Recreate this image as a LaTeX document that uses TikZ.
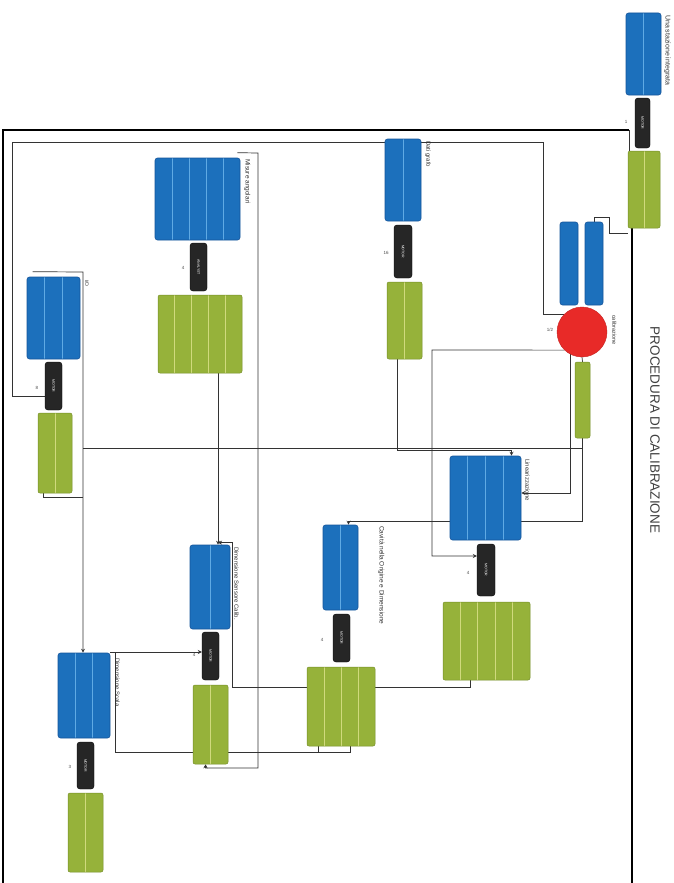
\documentclass[tikz,border=0pt]{standalone}
\usepackage{fontspec}
\setmainfont{Liberation Sans}
\usetikzlibrary{calc,arrows.meta}
\definecolor{bfill}{RGB}{28,112,188}
\definecolor{bdark}{RGB}{22,85,155}
\definecolor{bline}{RGB}{95,170,228}
\definecolor{gfill}{RGB}{150,178,58}
\definecolor{gdark}{RGB}{118,142,40}
\definecolor{gline}{RGB}{208,218,125}
\definecolor{kfill}{RGB}{38,38,38}
\definecolor{rfill}{RGB}{232,42,40}
\pgfdeclarelayer{bg}
\pgfsetlayers{bg,main}
\begin{document}
\begin{tikzpicture}[x=1pt,y=-1pt,
  conn/.style={draw=black!80, line width=0.7pt},
  arr/.style={conn,-{Stealth[length=4pt,width=4pt]}},
  framel/.style={draw=black, line width=2pt},
  dcols/.style 2 args={path picture={\pgfmathtruncatemacro\nm{#1-1}\foreach \k in {1,...,\nm}{\draw[#2,line width=0.9pt] ($(path picture bounding box.north west)!{\k/#1}!(path picture bounding box.north east)$) -- ($(path picture bounding box.south west)!{\k/#1}!(path picture bounding box.south east)$);}}},
  bb/.style={fill=bfill, draw=bdark, line width=0.6pt, rounded corners=2.5pt, inner sep=0pt},
  gb/.style={fill=gfill, draw=gdark, line width=0.5pt, rounded corners=2pt, inner sep=0pt},
  kb/.style={fill=kfill, draw=black, rounded corners=3pt, inner sep=0pt, text=white, font=\fontsize{3.5}{4}\selectfont},
  lbl/.style={rotate=-90, anchor=south west, inner sep=1pt, font=\fontsize{7}{8}\selectfont, text=black!80},
  mk/.style={font=\fontsize{4.5}{5}\selectfont, text=black!70, inner sep=0.5pt},
]
\useasboundingbox (0,0) rectangle (673,883);

% ---------- component A (outside frame)
\node[bb, dcols={2}{bline}, minimum width=35pt, minimum height=82pt] (Ablue) at (643.5,54) {};
\node[kb, minimum width=15pt, minimum height=50pt] (Ablack) at (642.5,123) {\rotatebox{-90}{MOTOR}};
\node[gb, dcols={2}{gline}, minimum width=32pt, minimum height=77pt] (Agreen) at (644,189.5) {};
\node[lbl] (Alab) at (663,14) {Una stazione integrata};
\node[mk] (Amk) at (626,122) {1};

% ---------- component B (calibrazione)
\node[bb, minimum width=18pt, minimum height=83pt] (Bblue1) at (569,263.5) {};
\node[bb, minimum width=18pt, minimum height=83pt] (Bblue2) at (594,263.5) {};
\node[circle, fill=rfill, draw=rfill!85!black, minimum size=50pt, inner sep=0pt] (Bcirc) at (582,332) {};
\node[gb, minimum width=15pt, minimum height=76pt] (Bgreen) at (582.5,400) {};
\node[lbl, font=\fontsize{5.5}{6}\selectfont] (Blab) at (611,314) {calibrazione};
\node[mk] (Bmk) at (550,330) {1/2};

% ---------- component C
\node[bb, dcols={2}{bline}, minimum width=36pt, minimum height=82pt] (Cblue) at (403,180) {};
\node[kb, minimum width=18pt, minimum height=53pt] (Cblack) at (403,251.5) {\rotatebox{-90}{MOTOR}};
\node[gb, dcols={2}{gline}, minimum width=35pt, minimum height=77pt] (Cgreen) at (404.5,320.5) {};
\node[lbl, font=\fontsize{6}{7}\selectfont] (Clab) at (424,140) {Dati grafo};
\node[mk] (Cmk) at (386,253) {16};

% ---------- component D (Linearizzazione)
\node[bb, dcols={4}{bline}, minimum width=71pt, minimum height=84pt] (Dblue) at (485.5,498) {};
\node[kb, minimum width=18pt, minimum height=52pt] (Dblack) at (486,570) {\rotatebox{-90}{MOTOR}};
\node[gb, dcols={5}{gline}, minimum width=87pt, minimum height=78pt] (Dgreen) at (486.5,641) {};
\node[lbl, font=\fontsize{6}{7}\selectfont] (Dlab) at (524,458) {Linearizzazione};
\node[mk] (Dmk) at (468,573) {4};

% ---------- component E
\node[bb, dcols={3}{bline}, minimum width=53pt, minimum height=82pt] (Eblue) at (53.5,318) {};
\node[kb, minimum width=17pt, minimum height=48pt] (Eblack) at (53.5,386) {\rotatebox{-90}{MOTOR}};
\node[gb, dcols={2}{gline}, minimum width=34pt, minimum height=80pt] (Egreen) at (55,453) {};
\node[lbl, font=\fontsize{5}{6}\selectfont] (Elab) at (84,279) {I/O};
\node[mk] (Emk) at (37,388) {8};

% ---------- component G (Misure angolari)
\node[bb, dcols={5}{bline}, minimum width=85pt, minimum height=82pt] (Gblue) at (197.5,199) {};
\node[kb, minimum width=17pt, minimum height=48pt] (Gblack) at (198.5,267) {\rotatebox{-90}{ANALYST}};
\node[gb, dcols={5}{gline}, minimum width=84pt, minimum height=78pt] (Ggreen) at (200,334) {};
\node[lbl, font=\fontsize{6.5}{7}\selectfont] (Glab) at (243,158) {Misure angolari};
\node[mk] (Gmk) at (183,268) {4};

% ---------- component H
\node[bb, dcols={2}{bline}, minimum width=40pt, minimum height=84pt] (Hblue) at (210,587) {};
\node[kb, minimum width=17pt, minimum height=48pt] (Hblack) at (210.5,656) {\rotatebox{-90}{MOTOR}};
\node[gb, dcols={2}{gline}, minimum width=35pt, minimum height=79pt] (Hgreen) at (210.5,724.5) {};
\node[lbl, font=\fontsize{6}{7}\selectfont] (Hlab) at (233,546) {Dimensione Sensore Calib.};
\node[mk] (Hmk) at (194,655) {4};

% ---------- component I
\node[bb, dcols={2}{bline}, minimum width=35pt, minimum height=85pt] (Iblue) at (340.5,567.5) {};
\node[kb, minimum width=17pt, minimum height=48pt] (Iblack) at (341.5,638) {\rotatebox{-90}{MOTOR}};
\node[gb, dcols={4}{gline}, minimum width=68pt, minimum height=79pt] (Igreen) at (341,706.5) {};
\node[lbl, font=\fontsize{6.5}{7}\selectfont] (Ilab) at (377,525) {Cavità nella Origine e Dimensione};
\node[mk] (Imk) at (322,640) {4};

% ---------- component F
\node[bb, dcols={3}{bline}, minimum width=52pt, minimum height=85pt] (Fblue) at (84,695.5) {};
\node[kb, minimum width=17pt, minimum height=47pt] (Fblack) at (85.5,765.5) {\rotatebox{-90}{MOTOR}};
\node[gb, dcols={2}{gline}, minimum width=35pt, minimum height=79pt] (Fgreen) at (85.5,832.5) {};
\node[lbl, font=\fontsize{6}{7}\selectfont] (Flab) at (114,657) {Dimensione Scala};
\node[mk] (Fmk) at (70,767) {3};

% ---------- title
\node[rotate=-90, font=\fontsize{13.5}{15}\selectfont, text=black!75] (title) at (655,430) {PROCEDURA DI CALIBRAZIONE};

% ---------- connectors
\begin{pgfonlayer}{bg}
\fill[white] (0,0) rectangle (673,883);
\coordinate (fbl) at (3,883);
\coordinate (ftr) at (629,130);
\coordinate (fbr) at (632,883);
\draw[framel] (fbl) |- (ftr);
\draw[conn] (ftr) -- (ftr |- Agreen.north);
\draw[framel] (fbr |- Agreen.south) -- (fbr);

\draw[conn] ([yshift=-5pt]Agreen.south west) -- ++(-18,0) |- ([yshift=4pt]Bblue2.north) -- (Bblue2.north);

\coordinate (c1) at (12,142);
\coordinate (c2) at (543,142);
\draw[conn] ([yshift=-10pt]Eblack.west) -| (c1) -- (c2) |- (Bcirc.137);

\coordinate (c3) at (432,350);
\draw[arr] (Bcirc.226) -- (c3) |- ([yshift=14pt]Dblack.west);
\draw[conn] (Bcirc.south) -- (Bgreen.north);
\draw[arr] (Bcirc.242) -- (Bcirc.242 |- 0,493) -- (Dblue.east |- 0,493);

\draw[arr] ([xshift=-7pt]Cgreen.south) |- ([xshift=26pt,yshift=5pt]Dblue.north) -- ([xshift=26pt]Dblue.north);

\draw[arr] (Bgreen.south) |- ([xshift=8pt,yshift=3pt]Iblue.north) -- ([xshift=8pt]Iblue.north);

\coordinate (c6) at (83,272);
\draw[conn] (Bgreen.south |- 0,448) -- (c6 |- 0,448);
\draw[arr] ([xshift=6pt,yshift=5pt]Eblue.north west) -- (c6) -- (c6 |- Fblue.north);
\draw[conn] ([xshift=-12pt]Egreen.south) |- (c6 |- 0,497);

\draw[arr] ([xshift=18pt]Ggreen.south) -- ([xshift=8pt]Hblue.north);

\coordinate (c8) at (258,153);
\draw[arr] ([xshift=-3pt,yshift=5pt]Gblue.north east) -- (c8) -- (c8 |- 0,768) -| ([xshift=-5pt]Hgreen.south);

\coordinate (c7) at (232,687);
\draw[arr] ([xshift=-16pt]Dgreen.south) |- (c7) |- ([xshift=8pt,yshift=2pt]Hblue.north);

\coordinate (c10) at (115,652);
\draw[conn] ([xshift=9pt]Igreen.south) |- (c10 |- 0,752) -- (c10) -- (Fblue.north east |- c10);
\draw[conn] ([xshift=-23pt]Igreen.south) -- ++(0,6);
\draw[arr] (c10) -- (Hblack.west |- c10);
\end{pgfonlayer}
\end{tikzpicture}
\end{document}
